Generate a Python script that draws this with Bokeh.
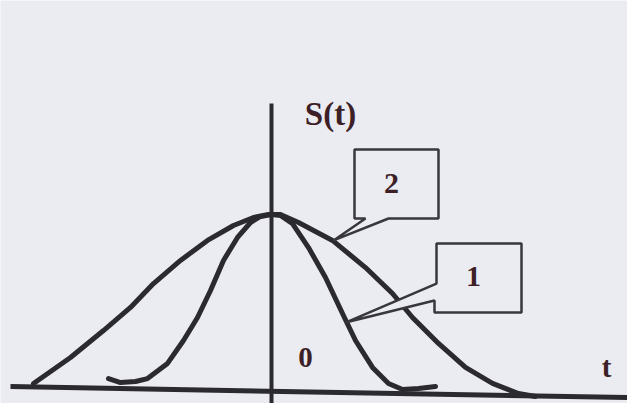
from bokeh.plotting import figure
from bokeh.models import Range1d
from bokeh.core.properties import value
from bokeh.embed import file_html
from bokeh.resources import INLINE

# ---- data (t, S(t)) ----
curve2_t = [-4.76, -4.02, -3.36, -2.82, -2.36, -1.82, -1.28, -0.76, -0.36, -0.06, 0.18,
            0.54, 1.22, 1.88, 2.42, 2.82, 3.34, 3.88, 4.42, 4.94, 5.28]
curve2_s = [0.029, 0.178, 0.333, 0.466, 0.603, 0.736, 0.851, 0.937, 0.983, 1.0, 1.0,
            0.954, 0.851, 0.695, 0.546, 0.408, 0.259, 0.121, 0.029, -0.029, -0.046]

curve1_t = [-3.26, -3.02, -2.72, -2.48, -2.08, -1.76, -1.48, -1.22, -0.96, -0.68, -0.42,
            -0.22, 0.0, 0.18, 0.42, 0.74, 1.08, 1.42, 1.68, 2.02, 2.34, 2.62, 2.94, 3.28]
curve1_s = [0.057, 0.034, 0.040, 0.057, 0.144, 0.276, 0.408, 0.563, 0.736, 0.868, 0.954,
            0.989, 1.0, 0.994, 0.948, 0.810, 0.638, 0.431, 0.276, 0.121, 0.029, -0.006,
            0.0, 0.011]

# axes lines (scanned: the t axis is slightly tilted)
t_axis_t = [-5.22, 7.12]
t_axis_s = [0.011, -0.052]
s_axis_t = [0.0, 0.0]
s_axis_s = [1.638, -0.086]

labels = ["S(t)", "0", "t"]
label_t = [1.18, 0.68, 6.70]
label_s = [1.580, 0.178, 0.126]

curve_names = ["2", "1"]
name_t = [2.40, 4.04]
name_s = [1.178, 0.644]

# callout outlines (box + pointer to curve)
call2_t = [1.66, 3.34, 3.34, 2.34, 1.24, 1.88, 1.66]
call2_s = [1.374, 1.374, 0.977, 0.977, 0.851, 0.977, 0.977]
call1_t = [3.30, 5.00, 5.00, 3.26, 3.26, 1.48, 3.30]
call1_s = [0.833, 0.833, 0.437, 0.437, 0.506, 0.379, 0.603]

BG = "#ebebf2"
INK = "#2b2a2e"
TXT = "#3d1f27"

p = figure(width=627, height=403, output_backend="svg", toolbar_location=None,
           x_range=Range1d(-5.42, 7.12), y_range=Range1d(-0.08621, 2.22989),
           min_border=0, background_fill_color=BG, border_fill_color=BG)
p.axis.visible = False
p.grid.visible = False
p.outline_line_color = None

p.line(t_axis_t, t_axis_s, line_color=INK, line_width=5)
p.line(s_axis_t, s_axis_s, line_color=INK, line_width=4)

p.line(curve2_t, curve2_s, line_color=INK, line_width=5, line_cap="round", line_join="round")
p.line(curve1_t, curve1_s, line_color=INK, line_width=5, line_cap="round", line_join="round")

p.patch(call2_t, call2_s, fill_color=BG, line_color="#38373b", line_width=2.5)
p.patch(call1_t, call1_s, fill_color=BG, line_color="#38373b", line_width=2.5)

p.text(label_t[:1], label_s[:1], text=labels[:1], text_font=value("Liberation Serif"),
       text_font_style="bold", text_font_size="33px", text_color=TXT,
       text_align="center", text_baseline="middle")
p.text(label_t[1:], label_s[1:], text=labels[1:], text_font=value("Liberation Serif"),
       text_font_style="bold", text_font_size="29px", text_color=TXT,
       text_align="center", text_baseline="middle")
p.text(name_t, name_s, text=curve_names, text_font=value("Liberation Serif"),
       text_font_style="bold", text_font_size="30px", text_color=TXT,
       text_align="center", text_baseline="middle")

open("out.html", "w").write(file_html(p, INLINE))
